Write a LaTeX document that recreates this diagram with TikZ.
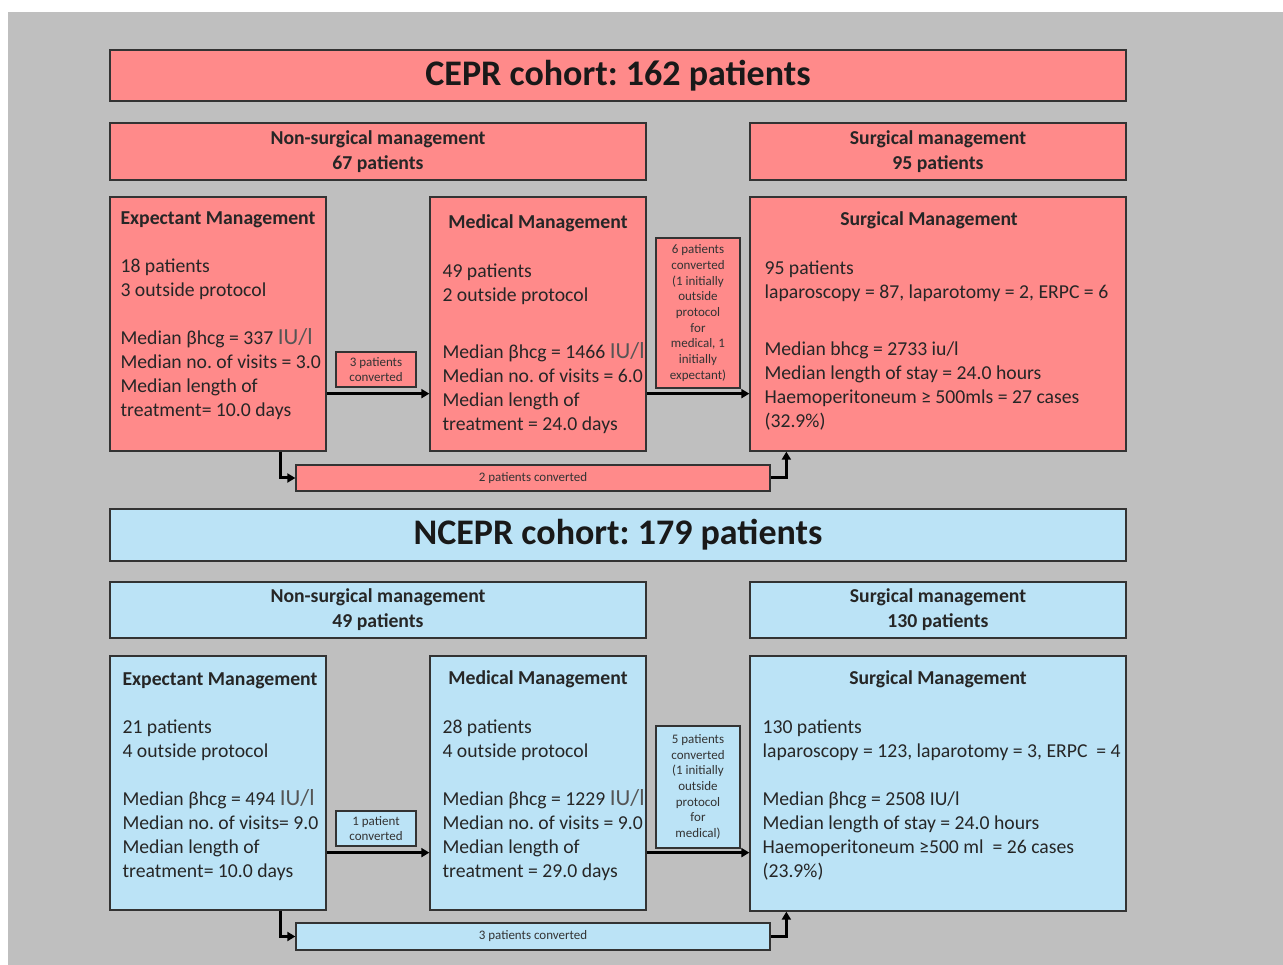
\documentclass[tikz,border=0pt]{standalone}
\usepackage{fontspec}
\setmainfont{Carlito}
\usetikzlibrary{arrows.meta, positioning}
\frenchspacing

\definecolor{ceprfill}{HTML}{FF8A8A}
\definecolor{nceprfill}{HTML}{BBE3F6}
\definecolor{bggray}{HTML}{BFBFBF}
\definecolor{iugray}{HTML}{555555}

\newcommand{\iul}{{\fontsize{23}{24}\selectfont\color{iugray}IU/l}}

\begin{document}
\begin{tikzpicture}[x=1pt,y=-1pt]
\tikzset{
    box/.style={draw=black!80, line width=1.3pt, inner sep=0pt},
    titletxt/.style={font=\fontsize{36}{40}\selectfont\bfseries, text=black!90},
    headtxt/.style={font=\fontsize{19.7}{25}\selectfont\bfseries, align=center, text=black!85},
    bodytxt/.style={font=\fontsize{19.7}{24}\selectfont, align=left, anchor=north west, inner sep=0pt, text=black!85},
    smalltxt/.style={font=\fontsize{13}{15.7}\selectfont, align=center, text=black!80},
    conn/.style={line width=3pt, -{Triangle[length=8pt,width=9pt]}}
}
% Background
\fill[white] (0,0) rectangle (1283,965);
\fill[bggray] (8,12) rectangle (1283,965);
\useasboundingbox (0,0) rectangle (1283,965);

% CEPR cohort
\node[box, fill=ceprfill, minimum width=1016pt, minimum height=51pt, titletxt] (titleA) at (618,75.5) {CEPR cohort: 162 patients};
\node[box, fill=ceprfill, minimum width=536pt, minimum height=57pt, headtxt] (nonsurgA) at (378,151.5) {Non-surgical management\\67 patients};
\node[box, fill=ceprfill, minimum width=376pt, minimum height=57pt, headtxt] (surgA) at (938,151.5) {Surgical management\\95 patients};

\node[box, fill=ceprfill, minimum width=216pt, minimum height=254pt] (expA) at (218,324) {};
\node[box, fill=ceprfill, minimum width=216pt, minimum height=254pt] (medA) at (538,324) {};
\node[box, fill=ceprfill, minimum width=376pt, minimum height=254pt] (surA) at (938,324) {};

\node[bodytxt] (expAtxt) at ([xshift=11pt,yshift=-15pt]expA.north west) {\textbf{Expectant Management}\\[24pt]
18 patients\\3 outside protocol\\[24pt]
Median βhcg = 337 \iul\\Median no. of visits = 3.0\\Median length of\\treatment= 10.0 days};
\node[headtxt, anchor=base] (medAhd) at ([yshift=-32.5pt]medA.north) {Medical Management};
\node[bodytxt] (medAtxt) at ([xshift=13pt,yshift=-67pt]medA.north west) {49 patients\\2 outside protocol\\[33pt]
Median βhcg = 1466 \iul\\Median no. of visits = 6.0\\Median length of\\treatment = 24.0 days};
\node[headtxt, anchor=base] (surAhd) at ([xshift=-9pt,yshift=-29.5pt]surA.north) {Surgical Management};
\node[bodytxt] (surAtxt) at ([xshift=15pt,yshift=-64pt]surA.north west) {95 patients\\laparoscopy = 87, laparotomy = 2, ERPC = 6\\[33pt]
Median bhcg = 2733 iu/l\\Median length of stay = 24.0 hours\\Haemoperitoneum ≥ 500mls = 27 cases\\(32.9\%)};

\node[box, fill=ceprfill, minimum width=80pt, minimum height=35pt, smalltxt] (cvEMA) at (376,369.5) {3 patients\\converted};
\node[box, fill=ceprfill, minimum width=84pt, minimum height=150pt, smalltxt] (cvMSA) at (698,313) {6 patients\\converted\\(1 initially\\outside\\protocol\\for\\medical, 1\\initially\\expectant)};
\node[box, fill=ceprfill, minimum width=474pt, minimum height=26pt, smalltxt] (cvESA) at (533,478) {2 patients converted};

\draw[conn] ([yshift=58pt]expA.south east) -- ([yshift=58pt]expA.south east -| medA.west);
\draw[conn] ([yshift=58pt]medA.south east) -- ([yshift=58pt]medA.south east -| surA.west);
\draw[conn] ([xshift=-46pt]expA.south east) |- (cvESA.west);
\draw[conn] (cvESA.east) -| ([xshift=37pt]surA.south west);

% NCEPR cohort
\node[box, fill=nceprfill, minimum width=1016pt, minimum height=52pt, titletxt] (titleB) at (618,535) {NCEPR cohort: 179 patients};
\node[box, fill=nceprfill, minimum width=536pt, minimum height=56pt, headtxt] (nonsurgB) at (378,610) {Non-surgical management\\49 patients};
\node[box, fill=nceprfill, minimum width=376pt, minimum height=56pt, headtxt] (surgB) at (938,610) {Surgical management\\130 patients};

\node[box, fill=nceprfill, minimum width=216pt, minimum height=254pt] (expB) at (218,783) {};
\node[box, fill=nceprfill, minimum width=216pt, minimum height=254pt] (medB) at (538,783) {};
\node[box, fill=nceprfill, minimum width=376pt, minimum height=255pt] (surB) at (938,783.5) {};

\node[bodytxt] (expBtxt) at ([xshift=13pt,yshift=-17pt]expB.north west) {\textbf{Expectant Management}\\[24pt]
21 patients\\4 outside protocol\\[24pt]
Median βhcg = 494 \iul\\Median no. of visits= 9.0\\Median length of\\treatment= 10.0 days};
\node[headtxt, anchor=base] (medBhd) at ([yshift=-29.5pt]medB.north) {Medical Management};
\node[bodytxt] (medBtxt) at ([xshift=13pt,yshift=-64.5pt]medB.north west) {28 patients\\4 outside protocol\\[24pt]
Median βhcg = 1229 \iul\\Median no. of visits = 9.0\\Median length of\\treatment = 29.0 days};
\node[headtxt, anchor=base] (surBhd) at ([yshift=-29.5pt]surB.north) {Surgical Management};
\node[bodytxt] (surBtxt) at ([xshift=13pt,yshift=-64.5pt]surB.north west) {130 patients\\laparoscopy = 123, laparotomy = 3, ERPC\ \ = 4\\[24pt]
Median βhcg = 2508 IU/l\\Median length of stay = 24.0 hours\\Haemoperitoneum ≥500 ml\ \ = 26 cases\\(23.9\%)};

\node[box, fill=nceprfill, minimum width=80pt, minimum height=35pt, smalltxt] (cvEMB) at (376,828.5) {1 patient\\converted};
\node[box, fill=nceprfill, minimum width=84pt, minimum height=122pt, smalltxt] (cvMSB) at (698,787) {5 patients\\converted\\(1 initially\\outside\\protocol\\for\\medical)};
\node[box, fill=nceprfill, minimum width=474pt, minimum height=27pt, smalltxt] (cvESB) at (533,936.5) {3 patients converted};

\draw[conn] ([yshift=58pt]expB.south east) -- ([yshift=58pt]expB.south east -| medB.west);
\draw[conn] ([yshift=58pt]medB.south east) -- ([yshift=58pt]medB.south east -| surB.west);
\draw[conn] ([xshift=-46pt]expB.south east) |- (cvESB.west);
\draw[conn] (cvESB.east) -| ([xshift=37pt]surB.south west);
\end{tikzpicture}
\end{document}
